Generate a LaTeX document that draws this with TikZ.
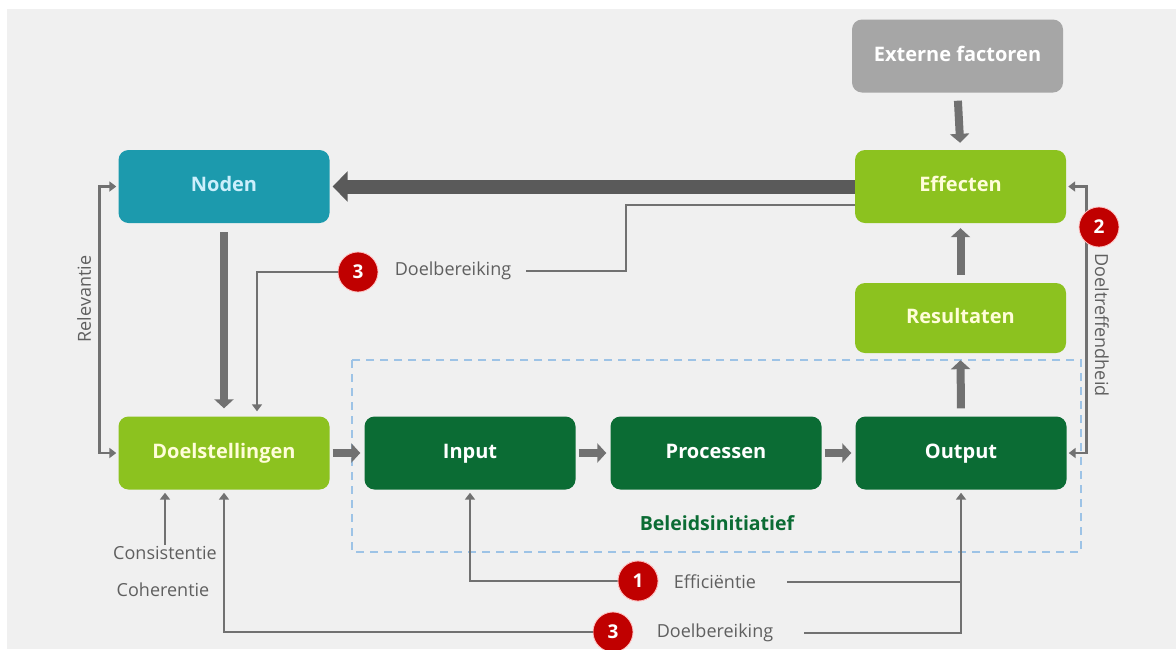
\documentclass[tikz,border=0pt]{standalone}
\usepackage{fontspec}
\setmainfont{Open Sans}
\usetikzlibrary{arrows.meta}
\definecolor{bggrey}{HTML}{F0F0F0}
\definecolor{extgrey}{HTML}{A6A6A6}
\definecolor{nodenteal}{HTML}{1C9AAD}
\definecolor{lightgreen}{HTML}{8CC21F}
\definecolor{darkgreen}{HTML}{0B6C34}
\definecolor{arrowgrey}{HTML}{717171}
\definecolor{bigarrow}{HTML}{5A5A5A}
\definecolor{dashblue}{HTML}{9DC3E6}
\definecolor{badgered}{HTML}{C00000}
\definecolor{lblgrey}{HTML}{5F5F5F}
\begin{document}
\begin{tikzpicture}[x=1pt,y=-1pt,
  >={Triangle[length=7pt,width=10pt]},
  box/.style={rectangle,rounded corners=10pt,minimum width=211pt,minimum height=73pt,
    inner sep=0pt,text height=1em,text depth=0pt,font=\fontsize{20}{22}\selectfont\bfseries},
  lbl/.style={text=lblgrey,font=\fontsize{18}{20}\selectfont,inner sep=1pt},
  badge/.style={circle,fill=badgered,draw=red!25,line width=0.8pt,minimum size=40pt,
    inner sep=0pt,text=white,font=\fontsize{19}{21}\selectfont\bfseries},
  thin line/.style={draw=arrowgrey,line width=2.8pt},
  fat/.style={draw=arrowgrey,line width=8pt,-{Triangle[length=9pt,width=19pt]}},
  huge/.style={draw=bigarrow,line width=14pt,-{Triangle[length=15pt,width=30pt]}}]
  \useasboundingbox (0,0) rectangle (1176,649);
  \fill[white] (0,0) rectangle (1176,649);
  \fill[bggrey] (7,9) rectangle (1176,649);
  % beleidsinitiatief frame
  \draw[dashblue,line width=1.8pt,dash pattern=on 8pt off 6pt] (352,360) rectangle (1081,552);
  \node[text=darkgreen,font=\fontsize{19.5}{22}\selectfont\bfseries] (beleid) at (717,523) {Beleidsinitiatief};
  \node[box,fill=extgrey,text=white] (extern) at (957.5,56) {Externe factoren};
  \node[box,fill=nodenteal,text=cyan!20] (noden) at (224,186.5) {Noden};
  \node[box,fill=lightgreen,text=yellow!15] (effecten) at (960.5,186.5) {Effecten};
  \node[box,fill=lightgreen,text=yellow!15,minimum height=70pt] (result) at (960.5,318) {Resultaten};
  \node[box,fill=lightgreen,text=yellow!15] (doel) at (224,453) {Doelstellingen};
  \node[box,fill=darkgreen,text=white] (input) at (470,453) {Input};
  \node[box,fill=darkgreen,text=white] (proc) at (716,453) {Processen};
  \node[box,fill=darkgreen,text=white] (output) at (961,453) {Output};
  \node[lbl] (doeltop) at (453,271) {Doelbereiking};
  \node[lbl] (effic) at (715,582) {Efficiëntie};
  \node[lbl] (doelbot) at (715,633) {Doelbereiking};
  \node[lbl,rotate=90] (relev) at (84,299) {Relevantie};
  \node[lbl,rotate=-90] (doeltr) at (1102,325) {Doeltreffendheid};
  \node[lbl] (consist) at (165,553) {Consistentie};
  \node[lbl] (coher) at (163,590) {Coherentie};
  \draw[fat,shorten <=8pt,shorten >=7pt] (extern.south) -- (effecten.north);
  \draw[huge,shorten >=3pt] (effecten.west) -- (noden.east);
  \draw[fat,shorten <=9pt,shorten >=8pt] (noden.south) -- (doel.north);
  \draw[fat,shorten <=8pt,shorten >=5pt] (result.north) -- (effecten.south);
  \draw[fat,shorten <=8pt,shorten >=7pt] (output.north) -- (result.south);
  \draw[fat,shorten <=3pt,shorten >=4pt] (doel.east) -- (input.west);
  \draw[fat,shorten <=3pt,shorten >=4pt] (input.east) -- (proc.west);
  \draw[fat,shorten <=3pt,shorten >=4pt] (proc.east) -- (output.west);
  \draw[thin line,<->,shorten <=2pt,shorten >=2pt] (noden.west) -- ++(-19,0) |- (doel.west);
  \draw[thin line,<->,shorten <=2pt,shorten >=2pt] (effecten.east) -- ++(20,0) |- (output.east);
  \draw[thin line] ([yshift=-18.5pt]effecten.west) -| (626,271) -- ([xshift=14pt]doeltop.east);
  \draw[thin line,->,shorten >=3pt] (consist.north) -- (consist.north |- doel.south);
  \draw[thin line] ([xshift=30pt]effic.east) -- (output.south |- effic.east);
  \draw[thin line,->,shorten >=3pt] ([xshift=30pt]doelbot.east) -| (output.south);
  \node[badge] (badgetop) at (358,272) {3};
  \node[badge] (badgeeff) at (1099,227) {2};
  \node[badge] (badgeone) at (638,581) {1};
  \node[badge] (badgebot) at (613,632) {3};
  \draw[thin line,->,shorten >=5pt] (badgetop.west) -| ([xshift=33pt]doel.north);
  \draw[thin line,->,shorten >=3pt] (badgeone.west) -| (input.south);
  \draw[thin line,->,shorten >=3pt] (badgebot.west) -| (doel.south);
  \node[badge] at (badgeone) {1};
\end{tikzpicture}
\end{document}
